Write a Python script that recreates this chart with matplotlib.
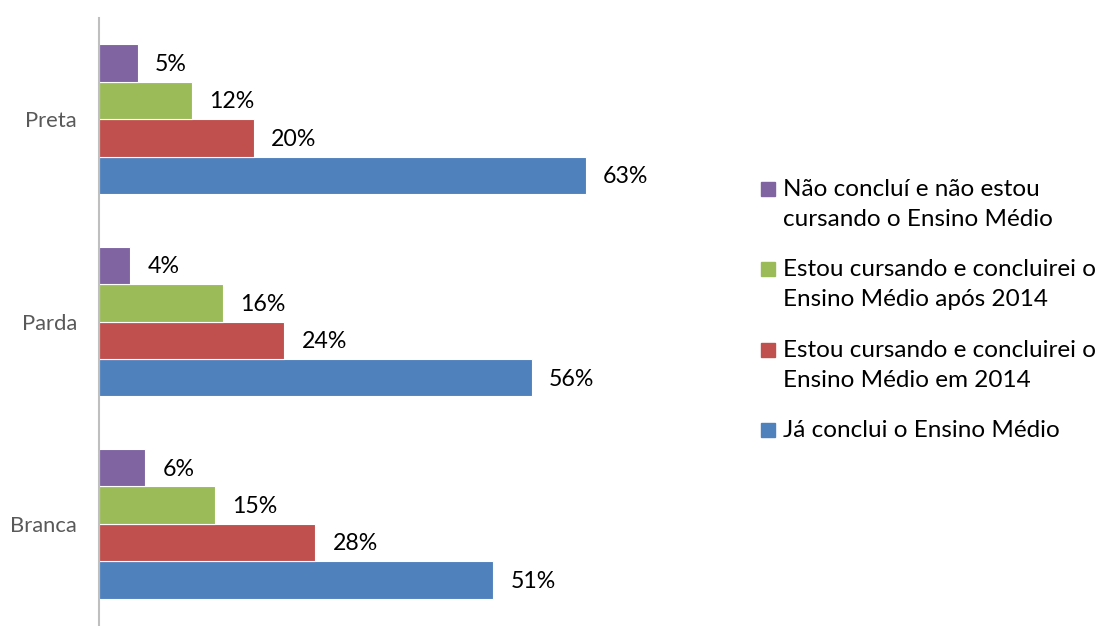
import matplotlib.pyplot as plt
from matplotlib.patches import Rectangle
import numpy as np

plt.rcParams['font.family'] = ['Lato', 'DejaVu Sans']

# categories, bottom to top
grupos = ["Branca", "Parda", "Preta"]

# series (percent), same order as grupos
ja_conclui = [51, 56, 63]
conclui_2014 = [28, 24, 20]
conclui_apos_2014 = [15, 16, 12]
nao_conclui = [6, 4, 5]

rotulos = [
    "Já conclui o Ensino Médio",
    "Estou cursando e concluirei o\nEnsino Médio em 2014",
    "Estou cursando e concluirei o\nEnsino Médio após 2014",
    "Não concluí e não estou\ncursando o Ensino Médio",
]
cores = ["#4F81BD", "#C0504D", "#9BBB59", "#8064A2"]

W, H = 1103, 626
fig = plt.figure(figsize=(W / 100, H / 100), dpi=100)
ax = fig.add_axes([99 / W, 1 / H, 618 / W, 607 / H])

y = np.arange(len(grupos))
h = 0.185
series = [ja_conclui, conclui_2014, conclui_apos_2014, nao_conclui]
for i, (vals, cor) in enumerate(zip(series, cores)):
    pos = y + (i - 1.5) * h
    bars = ax.barh(pos, vals, height=h, color=cor, edgecolor="white", linewidth=0.8)
    for b, v in zip(bars, vals):
        ax.annotate(f"{v}%", (b.get_width(), b.get_y() + h / 2),
                    xytext=(12.5, -1), textcoords="offset points",
                    ha="left", va="center", fontsize=16.7, color="black")

ax.set_xlim(0, 80)
ax.set_ylim(-0.5, 2.5)
ax.set_xticks([])
ax.set_yticks(y)
ax.set_yticklabels(grupos, fontsize=15.8, color="#595959")
ax.tick_params(axis="y", length=0, pad=16)
for s in ["top", "right", "bottom"]:
    ax.spines[s].set_visible(False)
ax.spines["left"].set_color("#BFBFBF")
ax.spines["left"].set_linewidth(1.5)

# legend, drawn top to bottom (reverse of bar order)
baselines = [196, 276, 357, 437]
for lab, cor, yb in zip(rotulos[::-1], cores[::-1], baselines):
    fig.patches.append(Rectangle((761 / W, 1 - yb / H), 14 / W, 14 / H,
                                 transform=fig.transFigure, color=cor))
    for k, linha in enumerate(lab.split("\n")):
        fig.text(783 / W, 1 - (yb + 30 * k) / H, linha, fontsize=17.5,
                 ha="left", va="baseline", color="black")

fig.savefig("out.png", dpi=100)
